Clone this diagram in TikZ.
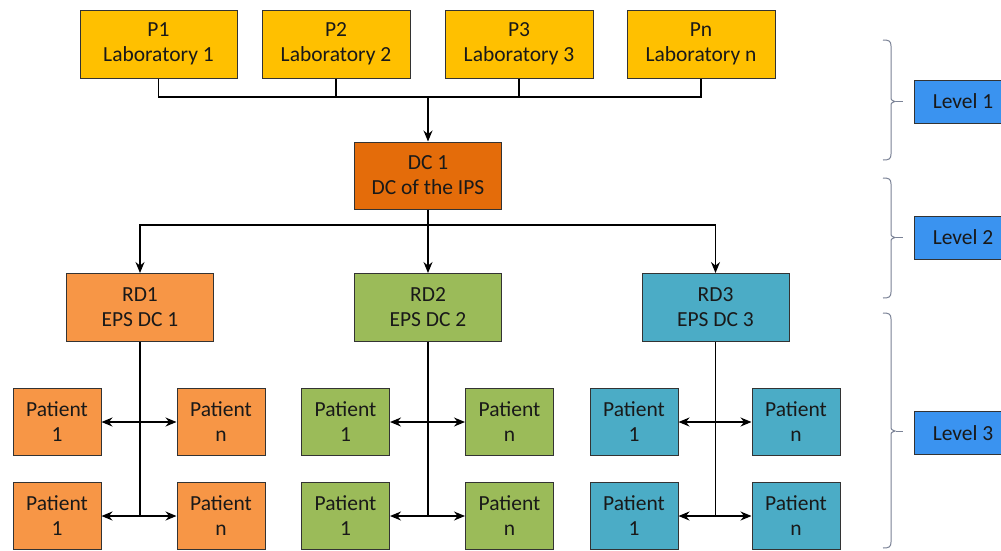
\documentclass[tikz,border=0pt]{standalone}
\usepackage{fontspec}
\setmainfont{Carlito}
\usetikzlibrary{arrows.meta}
\definecolor{labY}{HTML}{FFC000}
\definecolor{dcO}{HTML}{E46C0A}
\definecolor{rdO}{HTML}{F79646}
\definecolor{rdG}{HTML}{9BBB59}
\definecolor{rdB}{HTML}{4BACC6}
\definecolor{lvB}{HTML}{3A93F0}
\definecolor{edgeC}{HTML}{333333}
\definecolor{braceC}{HTML}{7A8296}
\tikzset{
  box/.style={draw=edgeC, line width=1pt, align=center, text=black!90,
    font=\fontsize{21.5}{25}\selectfont, inner sep=0pt},
  labbox/.style={box, fill=labY, minimum width=148pt, minimum height=68pt},
  dcbox/.style={box, fill=dcO, minimum width=147pt, minimum height=67pt},
  rdbox/.style={box, minimum width=147pt, minimum height=68pt},
  patbox/.style={box, minimum width=88pt, minimum height=67pt},
  lvbox/.style={box, fill=lvB, minimum width=98pt, minimum height=43pt},
  conn/.style={line width=1.3pt, draw=black},
  arr/.style={conn, -{Stealth[length=11pt,width=9pt]}},
  darr/.style={conn, {Stealth[length=11pt,width=9pt]}-{Stealth[length=11pt,width=9pt]}},
  bracestyle/.style={draw=braceC, line width=1pt},
}
\newcommand\lvlbrace[3]{% top, middle, bottom y
  \draw[bracestyle] (883,#1) .. controls (889,#1) and (891,#1+1) .. (891,#1+6)
    -- (891,#2-5) .. controls (891,#2-1.5) .. (895,#2)
    .. controls (891,#2+1.5) .. (891,#2+5)
    -- (891,#3-6) .. controls (891,#3-1) and (889,#3) .. (883,#3);}
\begin{document}
\begin{tikzpicture}[x=1pt,y=-1pt]
\clip (0,0) rectangle (1001,550);
\fill[white] (0,0) rectangle (1001,550);
% level 1 laboratories
\node[labbox, minimum width=157pt] (P1) at (158.5,44) {P1\\Laboratory 1};
\node[labbox] (P2) at (336,44) {P2\\Laboratory 2};
\node[labbox] (P3) at (519,44) {P3\\Laboratory 3};
\node[labbox] (Pn) at (701,44) {Pn\\Laboratory n};
\coordinate (bus) at (428,97);
\draw[conn] (P1.south) |- (bus);
\draw[conn] (Pn.south) |- (bus);
\draw[conn] (P2.south) |- (bus);
\draw[conn] (P3.south) |- (bus);
% DC 1
\node[dcbox] (DC1) at (428,175.5) {DC 1\\DC of the IPS};
\draw[arr] (bus) -- (DC1.north);
% RDs
\node[rdbox, fill=rdO] (RD1) at (140,307.5) {RD1\\EPS DC 1};
\node[rdbox, fill=rdG] (RD2) at (428,307.5) {RD2\\EPS DC 2};
\node[rdbox, fill=rdB] (RD3) at (715.5,307.5) {RD3\\EPS DC 3};
\coordinate (split) at (428,225);
\draw[conn] (DC1.south) -- (split);
\draw[arr] (split) -| (RD1.north);
\draw[arr] (split) -- (RD2.north);
\draw[arr] (split) -| (RD3.north);
% patients group 1
\node[patbox, fill=rdO] (A11) at (57,422) {Patient\\1};
\node[patbox, fill=rdO] (A1n) at (221,422) {Patient\\n};
\node[patbox, fill=rdO] (A21) at (57,516) {Patient\\1};
\node[patbox, fill=rdO] (A2n) at (221,516) {Patient\\n};
\coordinate (jb) at (140,516);
\draw[conn] (RD1.south) -- (jb);
\draw[darr] (A11.east) -- (A1n.west);
\draw[darr] (A21.east) -- (A2n.west);
% patients group 2
\node[patbox, fill=rdG] (B11) at (345.5,422) {Patient\\1};
\node[patbox, fill=rdG] (B1n) at (509.5,422) {Patient\\n};
\node[patbox, fill=rdG] (B21) at (345.5,516) {Patient\\1};
\node[patbox, fill=rdG] (B2n) at (509.5,516) {Patient\\n};
\coordinate (kb) at (428,516);
\draw[conn] (RD2.south) -- (kb);
\draw[darr] (B11.east) -- (B1n.west);
\draw[darr] (B21.east) -- (B2n.west);
% patients group 3
\node[patbox, fill=rdB] (C11) at (634,422) {Patient\\1};
\node[patbox, fill=rdB] (C1n) at (796,422) {Patient\\n};
\node[patbox, fill=rdB] (C21) at (634,516) {Patient\\1};
\node[patbox, fill=rdB] (C2n) at (796,516) {Patient\\n};
\coordinate (mb) at (715.5,516);
\draw[conn] (RD3.south) -- (mb);
\draw[darr] (C11.east) -- (C1n.west);
\draw[darr] (C21.east) -- (C2n.west);
% braces and levels
\lvlbrace{40}{101.5}{160}
\lvlbrace{178}{237.5}{298}
\lvlbrace{313}{431}{548}
\node[lvbox] (L1) at (963,101.5) {Level 1};
\node[lvbox] (L2) at (963,237.5) {Level 2};
\node[lvbox] (L3) at (963,433) {Level 3};
\coordinate (d1) at (896,101.5);
\coordinate (d2) at (896,237.5);
\coordinate (d3) at (896,431);
\draw[bracestyle] (d1) -- ++(7,0);
\draw[bracestyle] (d2) -- ++(7,0);
\draw[bracestyle] (d3) -- ++(7,0);
\end{tikzpicture}
\end{document}
